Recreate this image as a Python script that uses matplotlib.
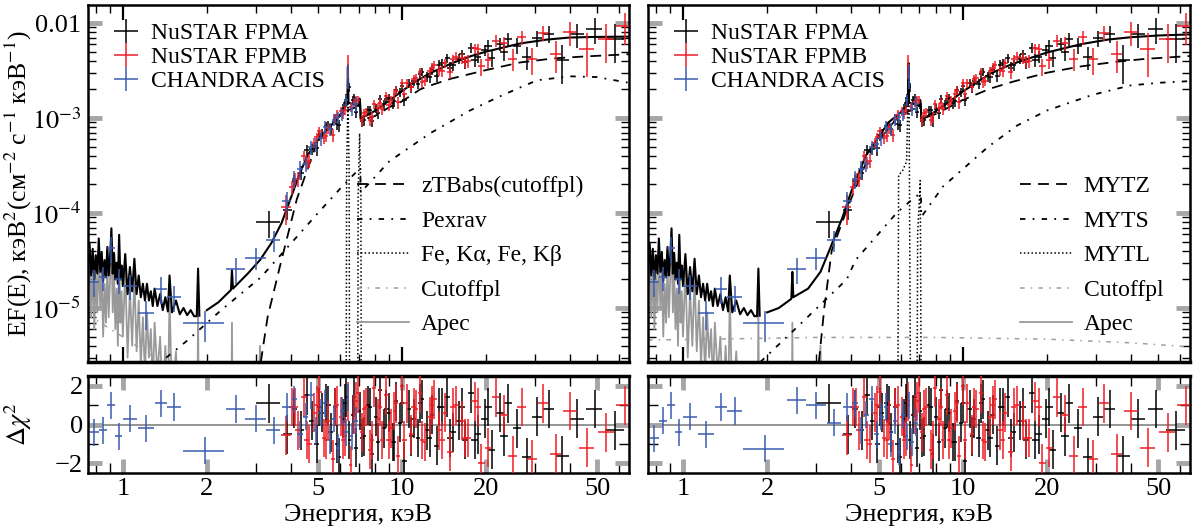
import matplotlib
matplotlib.use('Agg')
import matplotlib.pyplot as plt
from matplotlib.ticker import FixedLocator, FixedFormatter, NullFormatter
from matplotlib.lines import Line2D

plt.rcParams['font.family'] = ['Liberation Serif', 'DejaVu Serif']
plt.rcParams['mathtext.fontset'] = 'stix'

# ---------------- data ----------------
# NuSTAR FPMA
fpma_E = [3.33, 3.88, 4.12, 4.35, 4.55, 4.75, 4.95, 5.15, 5.35, 5.55, 5.75, 5.95, 6.15, 6.32, 6.48,
          6.65, 6.85, 7.05, 7.3, 7.55, 7.8, 8.05, 8.35, 8.65, 8.95, 9.25, 9.55, 9.85, 10.2, 10.6,
          11.0, 11.4, 11.8, 12.3, 12.8, 13.3, 13.9, 14.5, 15.2, 16.0, 16.8, 17.7, 18.7, 19.8, 21.0,
          22.4, 24.0, 25.8, 28.0, 30.5, 33.5, 37.5, 42.5, 49.0, 58.0,
          5.05, 5.45, 5.85, 6.25, 6.75, 7.18, 7.68, 8.2, 8.8, 9.4, 10.0, 10.8, 11.6, 12.55, 13.6,
          14.85, 16.4, 18.2, 20.4, 23.2]
fpma_w = [0.33, 0.14, 0.1, 0.1, 0.1, 0.1, 0.1, 0.1, 0.1, 0.1, 0.1, 0.1, 0.09, 0.08, 0.08,
          0.09, 0.1, 0.1, 0.12, 0.12, 0.12, 0.13, 0.15, 0.15, 0.15, 0.15, 0.15, 0.15, 0.18, 0.2,
          0.2, 0.2, 0.2, 0.25, 0.25, 0.25, 0.3, 0.3, 0.35, 0.4, 0.4, 0.45, 0.5, 0.55, 0.6,
          0.7, 0.8, 0.9, 1.1, 1.3, 1.5, 2.0, 2.5, 3.2, 4.5,
          0.1, 0.1, 0.1, 0.09, 0.1, 0.12, 0.12, 0.14, 0.15, 0.15, 0.17, 0.2, 0.2, 0.25, 0.28,
          0.33, 0.4, 0.48, 0.6, 0.75]
fpma_F = [8.0e-5, 1.08e-4, 2.17e-4, 2.67e-4, 4.66e-4, 4.74e-4, 4.8e-4, 6.8e-4, 8.2e-4, 7.7e-4,
          1.0e-3, 8.4e-4, 1.25e-3, 1.64e-3, 2.1e-3, 1.54e-3, 1.16e-3, 1.4e-3, 9.5e-4, 1.21e-3,
          9.3e-4, 1.26e-3, 1.59e-3, 1.39e-3, 1.63e-3, 1.44e-3, 1.96e-3, 1.87e-3, 1.56e-3, 2.34e-3,
          2.44e-3, 2.3e-3, 3.07e-3, 2.74e-3, 3.23e-3, 2.78e-3, 3.77e-3, 4.25e-3, 3.61e-3, 4.17e-3,
          3.87e-3, 5.5e-3, 4.42e-3, 5.2e-3, 4.26e-3, 6.0e-3, 6.8e-3, 5.8e-3, 4.4e-3, 6.95e-3,
          7.7e-3, 4.1e-3, 7.6e-3, 8.6e-3, 6.8e-3,
          6.6e-4, 8.5e-4, 8.6e-4, 1.45e-3, 1.62e-3, 9.2e-4, 1.22e-3, 1.12e-3, 1.6e-3, 1.5e-3,
          2.15e-3, 2.1e-3, 2.9e-3, 2.7e-3, 3.65e-3, 3.4e-3, 4.7e-3, 4.1e-3, 5.8e-3, 5.0e-3]
fpma_dF = [2.5e-5, 2.4e-5, 3.4e-5, 4.5e-5, 5.7e-5, 6.5e-5, 7.8e-5, 8.5e-5, 9.4e-5, 1.0e-4,
           1.1e-4, 1.2e-4, 1.4e-4, 1.7e-4, 2.2e-4, 1.6e-4, 1.5e-4, 1.5e-4, 1.2e-4, 1.3e-4,
           1.3e-4, 1.4e-4, 1.6e-4, 1.6e-4, 1.8e-4, 1.8e-4, 2.0e-4, 2.1e-4, 2.2e-4, 2.5e-4,
           2.7e-4, 2.8e-4, 3.1e-4, 3.3e-4, 3.6e-4, 3.7e-4, 4.0e-4, 4.4e-4, 4.5e-4, 5.0e-4,
           5.5e-4, 6.0e-4, 6.5e-4, 7.0e-4, 8.0e-4, 9.0e-4, 1.0e-3, 1.1e-3, 1.2e-3, 1.4e-3,
           1.6e-3, 1.8e-3, 2.2e-3, 2.6e-3, 3.0e-3,
           8e-5, 9e-5, 1.1e-4, 1.4e-4, 1.6e-4, 1.1e-4, 1.3e-4, 1.4e-4, 1.7e-4, 1.9e-4,
           2.2e-4, 2.5e-4, 3.0e-4, 3.4e-4, 3.9e-4, 4.5e-4, 5.5e-4, 6.5e-4, 8.0e-4, 1.0e-3]
fpma_res = [1.1, -0.5, 0.8, -0.3, 1.5, 0.2, -1.0, 0.6, 1.1, -0.4, 0.9, -1.7, 0.3, 1.4, -0.8,
            0.5, -1.2, 0.7, -0.6, 1.0, -1.5, 0.4, 1.8, -0.2, 0.6, -0.9, 1.2, 0.1, -1.9, 0.8,
            0.3, -0.7, 1.3, -0.3, 0.5, -1.1, 0.9, 1.4, -0.4, 0.2, -0.8, 1.6, -0.5, 0.3, -1.3,
            0.6, 1.1, -0.2, -1.7, 0.4, 0.8, -1.6, 0.3, 0.8, -0.3,
            0.9, 1.0, -1.0, 1.1, 1.4, -0.7, 0.9, -0.9, 0.8, -0.9, 1.1, -0.6, 1.1, -0.7, 0.9,
            -0.7, 0.9, -0.8, 0.9, -0.6]

# NuSTAR FPMB
fpmb_E = [3.85, 4.05, 4.25, 4.45, 4.65, 4.85, 5.05, 5.25, 5.45, 5.65, 5.85, 6.05, 6.25, 6.4, 6.56,
          6.75, 6.95, 7.18, 7.42, 7.68, 7.93, 8.2, 8.5, 8.8, 9.1, 9.4, 9.7, 10.0, 10.4, 10.8,
          11.2, 11.6, 12.05, 12.55, 13.05, 13.6, 14.2, 14.85, 15.6, 16.4, 17.25, 18.2, 19.25, 20.4, 21.7,
          23.2, 24.9, 26.9, 29.2, 32.0, 35.5, 40.0, 46.0, 54.0, 63.0,
          4.15, 4.55, 4.95, 5.35, 5.75, 6.15, 6.85, 7.3, 7.8, 8.35, 8.95, 9.55, 10.2, 11.0, 11.8,
          12.8, 13.9, 15.2, 16.8, 18.7]
fpmb_w = [0.15, 0.1, 0.1, 0.1, 0.1, 0.1, 0.1, 0.1, 0.1, 0.1, 0.1, 0.1, 0.09, 0.06, 0.08,
          0.1, 0.1, 0.12, 0.12, 0.13, 0.13, 0.14, 0.15, 0.15, 0.15, 0.15, 0.15, 0.17, 0.2, 0.2,
          0.2, 0.2, 0.22, 0.25, 0.25, 0.28, 0.3, 0.33, 0.38, 0.4, 0.45, 0.48, 0.52, 0.6, 0.65,
          0.75, 0.85, 1.0, 1.2, 1.4, 1.7, 2.2, 2.8, 3.6, 4.5,
          0.1, 0.1, 0.1, 0.1, 0.1, 0.1, 0.1, 0.12, 0.12, 0.15, 0.15, 0.15, 0.18, 0.2, 0.2,
          0.25, 0.3, 0.35, 0.4, 0.5]
fpmb_F = [1.15e-4, 1.86e-4, 2.28e-4, 4.0e-4, 3.57e-4, 5.5e-4, 7.3e-4, 6.2e-4, 7.8e-4, 6.6e-4,
          1.09e-3, 1.18e-3, 1.21e-3, 3.6e-3, 1.3e-3, 1.48e-3, 1.56e-3, 9.5e-4, 1.15e-3, 9.5e-4,
          1.4e-3, 1.29e-3, 1.24e-3, 1.72e-3, 1.54e-3, 1.8e-3, 1.46e-3, 2.32e-3, 2.32e-3, 2.12e-3,
          2.64e-3, 3.06e-3, 2.48e-3, 3.1e-3, 3.62e-3, 3.17e-3, 3.78e-3, 3.03e-3, 4.44e-3, 4.3e-3,
          3.96e-3, 5.4e-3, 3.5e-3, 4.1e-3, 6.5e-3, 6.1e-3, 4.2e-3, 7.1e-3, 4.15e-3, 7.9e-3,
          4.75e-3, 8.0e-3, 5.3e-3, 6.8e-3, 9.4e-3,
          2.3e-4, 3.4e-4, 6.3e-4, 6.5e-4, 1.0e-3, 1.1e-3, 1.55e-3, 1.12e-3, 1.02e-3, 1.45e-3,
          1.38e-3, 1.95e-3, 1.8e-3, 2.6e-3, 2.4e-3, 3.4e-3, 3.1e-3, 4.2e-3, 3.9e-3, 5.3e-3]
fpmb_dF = [4.0e-5, 3.0e-5, 4.0e-5, 5.0e-5, 6.0e-5, 7.0e-5, 8.0e-5, 8.5e-5, 9.5e-5, 1.0e-4,
           1.2e-4, 1.3e-4, 1.4e-4, 1.0e-3, 1.5e-4, 1.6e-4, 1.6e-4, 1.2e-4, 1.3e-4, 1.3e-4,
           1.5e-4, 1.5e-4, 1.6e-4, 1.8e-4, 1.8e-4, 2.0e-4, 2.0e-4, 2.3e-4, 2.4e-4, 2.5e-4,
           2.8e-4, 3.0e-4, 3.2e-4, 3.4e-4, 3.7e-4, 3.9e-4, 4.2e-4, 4.5e-4, 5.0e-4, 5.5e-4,
           6.0e-4, 6.5e-4, 7.0e-4, 8.0e-4, 9.0e-4, 1.0e-3, 1.1e-3, 1.2e-3, 1.3e-3, 1.5e-3,
           1.8e-3, 2.2e-3, 2.6e-3, 3.0e-3, 3.5e-3,
           3.5e-5, 5e-5, 7e-5, 8.5e-5, 1.1e-4, 1.3e-4, 1.6e-4, 1.2e-4, 1.3e-4, 1.6e-4,
           1.8e-4, 2.0e-4, 2.3e-4, 2.7e-4, 3.1e-4, 3.6e-4, 4.0e-4, 4.6e-4, 5.5e-4, 6.5e-4]
fpmb_res = [-0.55, 0.9, -0.3, 1.4, -1.0, 0.6, 1.7, -0.7, 0.2, -1.8, 1.0, 0.4, -0.6, 1.2, -2.1,
            0.5, 1.6, -0.4, 0.9, -1.3, 1.9, 0.3, -0.8, 1.5, -0.2, 0.7, -1.6, 2.0, 1.1, -0.5,
            0.8, 1.6, -0.9, 0.4, 1.3, -0.3, 0.6, -1.4, 1.0, 0.2, -0.7, 1.2, -2.0, -1.2, 1.4,
            0.5, -1.6, 0.9, -1.8, 1.1, -1.5, 0.7, -1.2, -0.4, 1.0,
            0.9, -0.8, 1.0, -0.8, 0.9, -0.8, 1.2, 0.8, -0.8, 0.9, -0.8, 1.1, -0.8, 0.9, -0.8,
            1.0, -0.8, 0.9, -0.7, 0.9]

# CHANDRA ACIS
acis_E = [0.79, 0.85, 0.906, 0.965, 1.06, 1.21, 1.37, 1.53, 1.97, 2.55, 3.0, 3.47, 3.87, 4.12,
          4.32, 4.52, 4.72, 4.92, 5.12, 5.32, 5.52, 5.72, 5.92, 6.12, 6.3, 6.42, 6.6, 6.82]
acis_w = [0.03, 0.03, 0.03, 0.03, 0.06, 0.08, 0.07, 0.09, 0.33, 0.2, 0.25, 0.2, 0.14, 0.1,
          0.1, 0.1, 0.1, 0.1, 0.1, 0.1, 0.1, 0.1, 0.1, 0.1, 0.08, 0.04, 0.1, 0.12]
acis_F = [1.9e-5, 2.1e-5, 4.3e-5, 2.0e-5, 1.7e-5, 8.9e-6, 1.6e-5, 1.3e-5, 6.9e-6, 2.6e-5, 3.4e-5,
          5.2e-5, 1.35e-4, 2.3e-4, 2.9e-4, 3.3e-4, 4.9e-4, 5.3e-4, 6.1e-4, 8.0e-4, 7.6e-4, 9.6e-4,
          1.02e-3, 1.1e-3, 1.55e-3, 2.8e-3, 1.25e-3, 1.4e-3]
acis_dF = [6e-6, 6e-6, 1.3e-5, 6e-6, 5e-6, 3e-6, 5e-6, 4e-6, 2.5e-6, 8e-6, 9e-6, 1.3e-5, 3e-5,
           5e-5, 6e-5, 6e-5, 8e-5, 9e-5, 1e-4, 1.2e-4, 1.2e-4, 1.4e-4, 1.5e-4, 1.6e-4, 2e-4,
           8e-4, 2e-4, 2.5e-4]
acis_res_L = [-0.4, -0.3, 1.0, -0.6, 0.3, -0.2, 1.1, 0.9, -1.35, 0.8, 0.3, -0.3, 0.9, 1.3,
              -0.5, 0.4, 1.5, -0.3, 0.6, 1.1, -0.8, 0.3, -1.2, 0.7, -0.4, 1.4, -0.6, 0.2]
acis_res_R = [-0.7, 0.2, 1.0, -0.4, 0.4, -0.5, 0.9, 0.7, -1.25, 1.25, 1.0, 0.1, 0.9, 1.1,
              -0.3, 0.5, 1.3, -0.5, 0.4, 0.9, -1.0, 0.2, -1.4, 0.5, -0.6, 1.0, -0.9, 0.1]

# model grid for the soft (spiky) part, shared by both fits
soft_E = [0.75, 0.76, 0.77, 0.78, 0.79, 0.80, 0.81, 0.82, 0.83, 0.84, 0.85, 0.86, 0.87, 0.88,
          0.89, 0.90, 0.91, 0.92, 0.93, 0.94, 0.95, 0.96, 0.97, 0.98, 0.99, 1.00, 1.02, 1.04,
          1.06, 1.08, 1.10, 1.12, 1.14, 1.16, 1.18, 1.20, 1.22, 1.24, 1.26, 1.28, 1.30, 1.33,
          1.36, 1.39, 1.42, 1.45, 1.47, 1.50, 1.55, 1.60, 1.65, 1.70, 1.75, 1.80, 1.84, 1.86, 1.88]
apec_F = [1.2e-5, 3.5e-5, 8e-6, 2.8e-5, 6e-6, 2.2e-5, 9e-6, 4e-5, 1.0e-5, 2.5e-5, 5e-6, 1.8e-5,
          7e-6, 3e-5, 8e-6, 2.0e-5, 5.5e-5, 9e-6, 2.4e-5, 6e-6, 1.6e-5, 4e-6, 4.5e-5, 7e-6,
          1.5e-5, 5e-6, 2.6e-5, 3e-6, 1.6e-5, 4e-6, 2.2e-5, 3.5e-6, 1.2e-5, 2.5e-6, 8e-6, 2e-6,
          9e-6, 3e-6, 6e-6, 1.5e-6, 7e-6, 2e-6, 5e-6, 1e-6, 4e-6, 1e-6, 1.3e-5, 1e-6, 3.5e-6,
          5e-7, 2e-6, 3e-7, 1.5e-6, 2e-7, 1e-7, 9e-6, 1e-7]
soft_tot_F = [2.6e-5, 4.8e-5, 2.2e-5, 4.2e-5, 2.0e-5, 3.6e-5, 2.3e-5, 5.4e-5, 2.4e-5, 3.9e-5,
              1.9e-5, 3.2e-5, 2.1e-5, 4.4e-5, 2.2e-5, 3.4e-5, 6.9e-5, 2.3e-5, 3.8e-5, 2.0e-5,
              3.0e-5, 1.8e-5, 5.9e-5, 2.0e-5, 2.8e-5, 1.7e-5, 3.7e-5, 1.4e-5, 2.7e-5, 1.5e-5,
              3.3e-5, 1.4e-5, 2.2e-5, 1.3e-5, 1.8e-5, 1.2e-5, 1.8e-5, 1.2e-5, 1.5e-5, 1.05e-5,
              1.6e-5, 1.05e-5, 1.4e-5, 9.5e-6, 1.3e-5, 9.2e-6, 2.2e-5, 9.0e-6, 1.2e-5, 8.6e-6,
              1.0e-5, 8.4e-6, 9.5e-6, 8.2e-6, 8.2e-6, 2.6e-5, 8.3e-6]
apec_hi_E = [2.00, 2.44, 2.46, 2.48, 3.0, 3.1, 3.2]
apec_hi_F = [1e-7, 1e-7, 7e-6, 1e-7, 1e-7, 4e-6, 1e-7]

# total model above 2 keV
hard_E_L = [2.0, 2.2, 2.44, 2.46, 2.48, 2.8, 3.1, 3.4, 3.7, 4.0, 4.3, 4.6, 5.0, 5.5, 6.0, 6.3, 6.37,
            6.40, 6.43, 6.7, 6.98, 7.05, 7.09, 7.11, 7.5, 8.0, 9.0, 10.0, 11.0, 12.6, 15.0, 17.5,
            20.0, 26.5, 33.0, 40.0, 50.0, 65.0]
hard_F_L = [9.5e-6, 1.15e-5, 1.55e-5, 2.5e-5, 1.6e-5, 2.3e-5, 3.2e-5, 4.8e-5, 7.8e-5, 1.45e-4,
            2.6e-4, 4.1e-4, 5.9e-4, 8.0e-4, 1.08e-3, 1.35e-3, 1.4e-3, 3.5e-3, 1.45e-3, 1.4e-3,
            1.34e-3, 1.6e-3, 1.36e-3, 1.0e-3, 1.07e-3, 1.19e-3, 1.53e-3, 1.92e-3, 2.35e-3, 2.97e-3,
            3.75e-3, 4.45e-3, 5.0e-3, 6.1e-3, 6.7e-3, 7.05e-3, 7.15e-3, 7.2e-3]
hard_E_R = [2.0, 2.2, 2.44, 2.46, 2.48, 2.8, 3.1, 3.33, 3.7, 4.0, 4.5, 5.0, 5.43, 6.0, 6.25, 6.37,
            6.40, 6.43, 6.7, 6.98, 7.05, 7.09, 7.11, 7.5, 8.0, 9.0, 10.0, 12.6, 15.0, 20.0, 26.5,
            33.0, 40.0, 50.0, 65.0]
hard_F_R = [9.0e-6, 1.0e-5, 1.25e-5, 2.4e-5, 1.3e-5, 1.6e-5, 2.4e-5, 4.0e-5, 8.7e-5, 1.7e-4,
            4.0e-4, 6.3e-4, 9.0e-4, 1.15e-3, 1.3e-3, 1.38e-3, 3.8e-3, 1.45e-3, 1.4e-3, 1.34e-3,
            1.55e-3, 1.3e-3, 9.5e-4, 1.05e-3, 1.18e-3, 1.5e-3, 1.9e-3, 2.95e-3, 3.7e-3, 4.9e-3,
            6.0e-3, 6.7e-3, 7.1e-3, 7.4e-3, 7.6e-3]

# left fit components
ztb_E = [3.12, 3.3, 3.66, 4.2, 4.96, 5.5, 6.35, 7.09, 7.11, 8.0, 9.0, 10.0, 11.6, 12.6, 15.0,
         20.0, 26.5, 35.0, 45.0, 65.0]
ztb_F = [2.7e-6, 8e-6, 2.8e-5, 1.4e-4, 5.5e-4, 8.5e-4, 1.2e-3, 1.35e-3, 9.5e-4, 1.05e-3, 1.3e-3,
         1.5e-3, 2.0e-3, 2.2e-3, 2.6e-3, 3.2e-3, 3.85e-3, 4.25e-3, 4.45e-3, 4.7e-3]
pexrav_E = [1.43, 1.71, 2.25, 3.12, 3.9, 5.0, 6.0, 7.09, 7.11, 7.25, 9.0, 12.6, 17.5, 22.0, 26.5,
            30.5, 40.0, 50.0, 65.0]
pexrav_F = [3.0e-6, 4.6e-6, 9.5e-6, 2.1e-5, 4.4e-5, 1.0e-4, 1.8e-4, 3.0e-4, 1.65e-4, 1.75e-4,
            3.5e-4, 6.9e-4, 1.2e-3, 1.65e-3, 2.1e-3, 2.5e-3, 2.75e-3, 2.7e-3, 2.35e-3]
feline_E = [6.30, 6.335, 6.40, 6.465, 6.50, 6.93, 6.965, 7.05, 7.125, 7.16]
feline_F = [1e-7, 3e-4, 1.55e-3, 3e-4, 1e-7, 1e-7, 1.5e-4, 6.9e-4, 1.5e-4, 1e-7]
cpl_E_L = [0.75, 0.83, 1.03, 1.3, 1.5]
cpl_F_L = [8.5e-6, 7.0e-6, 4.7e-6, 3.0e-6, 2.2e-6]

# right fit components
mytz_E = [3.06, 3.2, 3.4, 3.9, 4.73, 5.9, 7.09, 7.11, 8.0, 10.0, 12.6, 15.0, 20.0, 26.5, 35.0,
          45.0, 65.0]
mytz_F = [2.7e-6, 1e-5, 4e-5, 1.2e-4, 4.7e-4, 1.05e-3, 1.35e-3, 9.8e-4, 1.1e-3, 1.55e-3, 2.05e-3,
          2.4e-3, 3.0e-3, 3.5e-3, 3.9e-3, 4.2e-3, 4.5e-3]
myts_E = [1.89, 2.56, 3.85, 4.14, 5.8, 6.76, 7.09, 7.11, 8.5, 12.3, 15.6, 20.0, 29.0, 39.6, 50.0, 65.0]
myts_F = [2.7e-6, 6.3e-6, 2.0e-5, 3.2e-5, 1.0e-4, 1.48e-4, 1.6e-4, 9.1e-5, 1.9e-4, 4.95e-4,
          8.3e-4, 1.2e-3, 1.75e-3, 2.2e-3, 2.35e-3, 2.45e-3]
mytl_E = [5.85, 5.9, 6.1, 6.3, 6.37, 6.40, 6.43, 6.5, 6.55, 6.85, 6.9, 7.05, 7.1, 7.15]
mytl_F = [1e-7, 2.5e-4, 2.8e-4, 3.5e-4, 1.5e-3, 1.6e-3, 1.5e-3, 2e-6, 1e-7, 1e-7, 6e-5, 2.2e-4, 2e-6, 1e-7]
cpl_E_R = [0.75, 2.0, 3.0, 8.0, 20.0, 40.0, 65.0]
cpl_F_R = [4.6e-6, 4.8e-6, 4.9e-6, 4.9e-6, 4.7e-6, 4.3e-6, 3.9e-6]

RED = '#ee1c24'
BLUE = '#3a5bb0'

fig = plt.figure(figsize=(11.95, 5.32), dpi=100)
ax_tl = fig.add_axes([0.0736, 0.3195, 0.4527, 0.6711])
ax_bl = fig.add_axes([0.0736, 0.1109, 0.4527, 0.1823])
ax_tr = fig.add_axes([0.5423, 0.3195, 0.4536, 0.6711])
ax_br = fig.add_axes([0.5423, 0.1109, 0.4536, 0.1823])

minor_x_top = [0.8, 0.9, 2, 3, 4, 5, 6, 7, 8, 9, 20, 30, 40, 50, 60]
minor_x_res = [0.8, 0.9, 3, 4, 6, 7, 8, 9, 30, 40, 60]
minor_y = [m * 10.0 ** p for p in (-6, -5, -4, -3, -2) for m in range(2, 10)]


def style_top(ax, show_y):
    ax.set_xscale('log')
    ax.set_yscale('log')
    ax.set_xlim(0.75, 65)
    ax.set_ylim(2.7e-6, 0.0155)
    ax.xaxis.set_major_locator(FixedLocator([1, 10]))
    ax.xaxis.set_minor_locator(FixedLocator(minor_x_top))
    ax.xaxis.set_major_formatter(NullFormatter())
    ax.xaxis.set_minor_formatter(NullFormatter())
    ax.yaxis.set_major_locator(FixedLocator([1e-5, 1e-4, 1e-3, 1e-2]))
    ax.yaxis.set_minor_locator(FixedLocator(minor_y))
    ax.yaxis.set_minor_formatter(NullFormatter())
    if show_y:
        ax.yaxis.set_major_formatter(FixedFormatter(['$10^{-5}$', '$10^{-4}$', '$10^{-3}$', '0.01']))
    else:
        ax.yaxis.set_major_formatter(NullFormatter())
    ax.tick_params(which='both', direction='in', top=True, right=True, labelsize=19)
    ax.tick_params(axis='x', which='major', length=11, width=1.6, color='k')
    ax.tick_params(axis='x', which='minor', length=6, width=1.0, color='k')
    ax.tick_params(axis='y', which='major', length=10, width=3.5, color='0.65', pad=5)
    ax.tick_params(axis='y', which='minor', length=6, width=1.0, color='k')
    for s in ax.spines.values():
        s.set_linewidth(1.8)
    ax.spines['bottom'].set_linewidth(2.5)


def style_res(ax, show_y):
    ax.set_xscale('log')
    ax.set_xlim(0.75, 65)
    ax.set_ylim(-2.5, 2.5)
    ax.xaxis.set_major_locator(FixedLocator([1, 2, 5, 10, 20, 50]))
    ax.xaxis.set_major_formatter(FixedFormatter(['1', '2', '5', '10', '20', '50']))
    ax.xaxis.set_minor_locator(FixedLocator(minor_x_res))
    ax.xaxis.set_minor_formatter(NullFormatter())
    ax.yaxis.set_major_locator(FixedLocator([-2, 0, 2]))
    ax.yaxis.set_minor_locator(FixedLocator([-1, 1]))
    if show_y:
        ax.yaxis.set_major_formatter(FixedFormatter(['\u22122', '0', '2']))
    else:
        ax.yaxis.set_major_formatter(NullFormatter())
    ax.tick_params(which='both', direction='in', top=True, right=True, labelsize=19)
    ax.tick_params(which='major', length=10, width=3.5, color='0.65')
    ax.tick_params(which='minor', length=7, width=1.0, color='k')
    ax.axhline(0, color='0.55', lw=1.3, zorder=1)
    ax.set_xlabel('Энергия, кэВ', fontsize=19, labelpad=3)
    for s in ax.spines.values():
        s.set_linewidth(1.8)
    ax.spines['top'].set_linewidth(2.5)


def draw_data(ax):
    eb = dict(fmt='none', capsize=0, elinewidth=1.1, zorder=4)
    h1 = ax.errorbar(fpma_E, fpma_F, xerr=fpma_w, yerr=fpma_dF, ecolor='k', **eb)
    h2 = ax.errorbar(fpmb_E, fpmb_F, xerr=fpmb_w, yerr=fpmb_dF, ecolor=RED, **eb)
    h3 = ax.errorbar(acis_E, acis_F, xerr=acis_w, yerr=acis_dF, ecolor=BLUE, **eb)
    leg = ax.legend([h1, h2, h3], ['NuSTAR FPMA', 'NuSTAR FPMB', 'CHANDRA ACIS'],
                    loc='upper left', frameon=False, fontsize=17, handlelength=2.0,
                    handletextpad=0.05, labelspacing=0.1, borderaxespad=0.2,
                    bbox_to_anchor=(0.0, 0.99))
    ax.add_artist(leg)


def draw_res(ax, acis_res):
    eb = dict(fmt='none', capsize=0, elinewidth=1.1, zorder=3)
    ax.errorbar(fpma_E, fpma_res, xerr=fpma_w, yerr=1.0, ecolor='k', **eb)
    ax.errorbar(fpmb_E, fpmb_res, xerr=fpmb_w, yerr=1.0, ecolor=RED, **eb)
    ax.errorbar(acis_E, acis_res, xerr=acis_w, yerr=0.7, ecolor=BLUE, **eb)


def comp_legend(ax, names, styles, right):
    handles = [Line2D([], [], **st) for st in styles]
    ax.legend(handles, names, loc='lower right', frameon=False, fontsize=17,
              handlelength=2.2, handletextpad=0.5, labelspacing=0.55,
              bbox_to_anchor=(right, 0.015))


dash_style = dict(color='k', lw=1.3, linestyle=(0, (6, 4)))
dashdot_style = dict(color='k', lw=1.3, linestyle=(0, (3, 4, 1, 4)))
dot_style = dict(color='k', lw=1.1, linestyle=(0, (1, 1.5)))
cpl_style = dict(color='0.62', lw=1.1, linestyle=(0, (3, 4, 1, 4)))
apec_style = dict(color='0.6', lw=1.3, linestyle='-')

# ---- left: phenomenological model ----
ax = ax_tl
style_top(ax, True)
ax.plot(soft_E, apec_F, **apec_style, zorder=2)
ax.plot(apec_hi_E, apec_hi_F, **apec_style, zorder=2)
ax.plot(cpl_E_L, cpl_F_L, **cpl_style, zorder=2)
ax.plot(pexrav_E, pexrav_F, **dashdot_style, zorder=2)
ax.plot(ztb_E, ztb_F, **dash_style, zorder=2)
ax.plot(feline_E, feline_F, **dot_style, zorder=2)
ax.plot(soft_E, soft_tot_F, color='k', lw=1.5, zorder=3)
ax.plot(hard_E_L, hard_F_L, color='k', lw=1.5, zorder=3)
draw_data(ax)
comp_legend(ax, ['zTBabs(cutoffpl)', 'Pexrav', 'Fe, K\u03b1, Fe, K\u03b2', 'Cutoffpl', 'Apec'],
            [dash_style, dashdot_style, dot_style, cpl_style, apec_style], 0.955)
ax.set_ylabel('EF(E), кэВ$^2$(см$^{-2}$ с$^{-1}$ кэВ$^{-1}$)', fontsize=18.5)
ax.yaxis.set_label_coords(-0.1, 0.5)

style_res(ax_bl, True)
draw_res(ax_bl, acis_res_L)
ax_bl.set_ylabel('$\\Delta\\chi^2$', fontsize=19)
ax_bl.yaxis.set_label_coords(-0.1, 0.5)

# ---- right: MYTorus model ----
ax = ax_tr
style_top(ax, False)
ax.plot(soft_E, apec_F, **apec_style, zorder=2)
ax.plot(apec_hi_E, apec_hi_F, **apec_style, zorder=2)
ax.plot(cpl_E_R, cpl_F_R, **cpl_style, zorder=2)
ax.plot(myts_E, myts_F, **dashdot_style, zorder=2)
ax.plot(mytz_E, mytz_F, **dash_style, zorder=2)
ax.plot(mytl_E, mytl_F, **dot_style, zorder=2)
ax.plot(soft_E, soft_tot_F, color='k', lw=1.5, zorder=3)
ax.plot(hard_E_R, hard_F_R, color='k', lw=1.5, zorder=3)
draw_data(ax)
comp_legend(ax, ['MYTZ', 'MYTS', 'MYTL', 'Cutoffpl', 'Apec'],
            [dash_style, dashdot_style, dot_style, cpl_style, apec_style], 0.99)

style_res(ax_br, False)
draw_res(ax_br, acis_res_R)

fig.savefig('out.png', dpi=100)
